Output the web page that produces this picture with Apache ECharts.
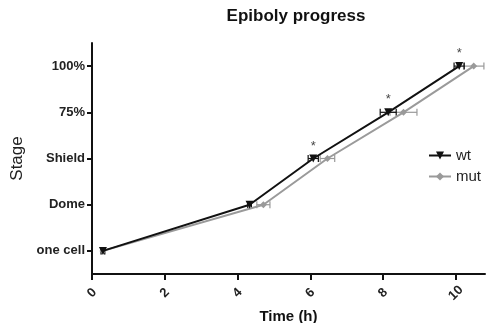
<!DOCTYPE html>
<html><head><meta charset="utf-8">
<script src="https://cdn.jsdelivr.net/npm/echarts@6/dist/echarts.min.js"></script>
<style>html,body{margin:0;padding:0;background:#fff}#c{width:486px;height:323px}</style>
</head><body><div id="c"></div>
<script>
const stageLabels = ['one cell', 'Dome', 'Shield', '75%', '100%'];
const stageValues = [0, 1, 2, 3, 4];
const xTicks = [0, 2, 4, 6, 8, 10];
const wtTime = [0.3, 4.33, 6.08, 8.14, 10.09];
const wtErr = [0.05, 0.05, 0.14, 0.22, 0.14];
const mutTime = [0.3, 4.71, 6.47, 8.56, 10.49];
const mutErr = [0.05, 0.18, 0.2, 0.37, 0.28];
const starStages = [2, 3, 4];

const font = 'Liberation Sans, Arial, sans-serif';
const chart = echarts.init(document.getElementById('c'));

function errSeries(times, errs, color) {
  return {
    type: 'custom', silent: true, z: 3,
    data: times.map((t, i) => [t, stageValues[i], t - errs[i], t + errs[i]]),
    renderItem: function (params, api) {
      const y = api.value(1);
      const a = api.coord([api.value(2), y]);
      const b = api.coord([api.value(3), y]);
      const h = 3.5;
      return {
        type: 'group', children: [
          { type: 'line', shape: { x1: a[0], y1: a[1], x2: b[0], y2: b[1] }, style: { stroke: color, lineWidth: 1.2 } },
          { type: 'line', shape: { x1: a[0], y1: a[1] - h, x2: a[0], y2: a[1] + h }, style: { stroke: color, lineWidth: 1.2 } },
          { type: 'line', shape: { x1: b[0], y1: b[1] - h, x2: b[0], y2: b[1] + h }, style: { stroke: color, lineWidth: 1.2 } }
        ]
      };
    }
  };
}

chart.setOption({
  animation: false,
  title: { text: 'Epiboly progress', left: 291, top: 3, textAlign: 'center',
    textStyle: { fontFamily: font, fontSize: 17, fontWeight: 'bold', color: '#111' } },
  grid: { left: 92, right: 1, top: 43, bottom: 49, containLabel: false, outerBoundsMode: 'none' },
  legend: {
    left: 423, top: 143, orient: 'vertical', itemWidth: 22, itemHeight: 10, itemGap: 6,
    textStyle: { fontFamily: font, fontSize: 15, color: '#222' },
    data: ['wt', 'mut']
  },
  xAxis: {
    type: 'value', min: 0, max: 10.8,
    name: 'Time (h)', nameLocation: 'middle', nameGap: 32,
    nameTextStyle: { fontFamily: font, fontSize: 15, fontWeight: 'bold', color: '#111' },
    axisLine: { show: true, onZero: false, lineStyle: { color: '#111', width: 2 } },
    axisTick: { show: true, length: 6, customValues: xTicks, lineStyle: { color: '#111', width: 2 } },
    axisLabel: { customValues: xTicks, rotate: 45, margin: 19, align: 'center', verticalAlign: 'middle',
      fontFamily: font, fontSize: 13, fontWeight: 'bold', color: '#222' },
    splitLine: { show: false }
  },
  yAxis: {
    type: 'value', min: -0.5, max: 4.5,
    name: 'Stage', nameLocation: 'middle', nameGap: 63, nameRotate: 90,
    nameTextStyle: { fontFamily: font, fontSize: 17, color: '#222' },
    axisLine: { show: true, onZero: false, lineStyle: { color: '#111', width: 2 } },
    axisTick: { show: true, length: 5, customValues: stageValues, lineStyle: { color: '#111', width: 2 } },
    axisLabel: { customValues: stageValues, margin: 7, fontFamily: font, fontSize: 13, fontWeight: 'bold', color: '#222',
      formatter: v => stageLabels[Math.round(v)] },
    splitLine: { show: false }
  },
  series: [
    errSeries(mutTime, mutErr, '#999'),
    errSeries(wtTime, wtErr, '#111'),
    {
      name: 'mut', type: 'line', z: 4,
      data: mutTime.map((t, i) => [t, stageValues[i]]),
      symbol: 'diamond', symbolSize: 7, showSymbol: true,
      lineStyle: { color: '#9a9a9a', width: 2 }, itemStyle: { color: '#9a9a9a' }
    },
    {
      name: 'wt', type: 'line', z: 5,
      data: wtTime.map((t, i) => [t, stageValues[i]]),
      symbol: 'triangle', symbolRotate: 180, symbolSize: 8, showSymbol: true,
      lineStyle: { color: '#111', width: 2 }, itemStyle: { color: '#111' }
    },
    {
      type: 'scatter', z: 6, silent: true, symbolSize: 0,
      data: starStages.map(s => [wtTime[s], s]),
      label: { show: true, position: 'top', distance: 6, formatter: '*', fontFamily: font, fontSize: 13, color: '#111' }
    }
  ]
});
</script></body></html>
